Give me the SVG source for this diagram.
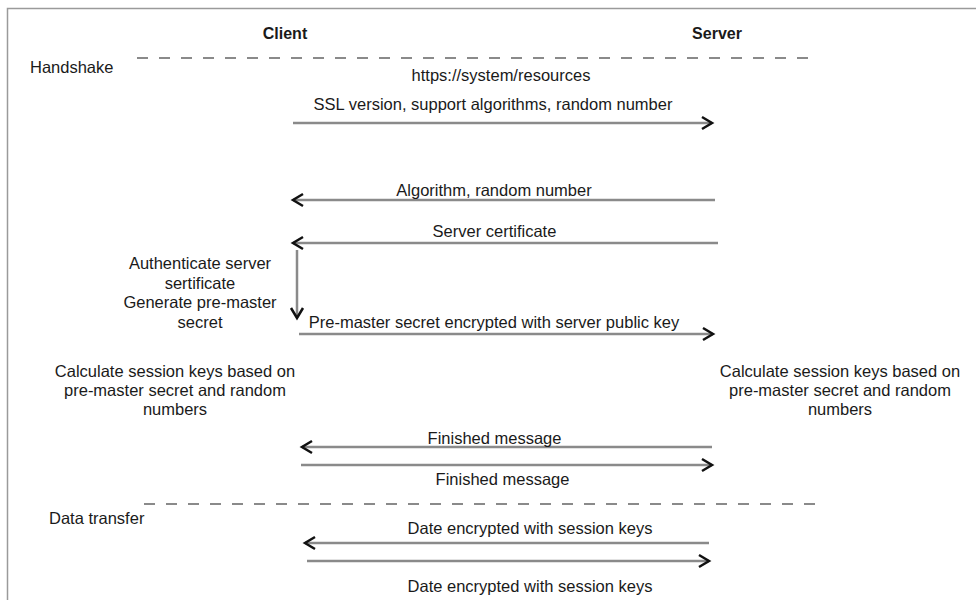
<svg xmlns="http://www.w3.org/2000/svg" width="976" height="600" viewBox="0 0 976 600">
<style>
  text { font-family: "Liberation Sans", Arial, sans-serif; font-size: 16.5px; fill: #1a1a1a; }
  .b { font-weight: bold; font-size: 16px; }
  .c { text-anchor: middle; }
  .msg { stroke: #8a8a8a; stroke-width: 2.5; fill: none; }
  .dash { stroke: #8a8a8a; stroke-width: 2; stroke-dasharray: 11 11; fill: none; }
  .frame { stroke: #9a9a9a; stroke-width: 1.5; fill: none; }
</style>
<defs>
  <marker id="ah" markerUnits="userSpaceOnUse" markerWidth="16" markerHeight="16" viewBox="-12 -8 14 16" refX="0" refY="0" orient="auto">
    <path d="M -10 -6 L 0 0 L -10 6" fill="none" stroke="#111" stroke-width="2.5" stroke-linejoin="miter"/>
  </marker>
</defs>
<rect width="976" height="600" fill="#fff"/>
<path class="frame" d="M 7.5 600 L 7.5 8.5 L 976 8.5"/>

<g id="client"><text class="b c" x="285" y="39">Client</text></g>
<g id="server"><text class="b c" x="717" y="39">Server</text></g>

<g id="phase-handshake">
  <text x="30" y="73">Handshake</text>
</g>
<g id="phase-data">
  <text x="49" y="524">Data transfer</text>
</g>

<g id="client-auth">
  <text class="c" x="200" y="269">Authenticate server</text>
  <text class="c" x="200" y="288.5">sertificate</text>
  <text class="c" x="200" y="308">Generate pre-master</text>
  <text class="c" x="200" y="327.5">secret</text>
</g>
<g id="client-keys">
  <text class="c" x="175" y="377">Calculate session keys based on</text>
  <text class="c" x="175" y="396">pre-master secret and random</text>
  <text class="c" x="175" y="415">numbers</text>
</g>
<g id="server-keys">
  <text class="c" x="840" y="377">Calculate session keys based on</text>
  <text class="c" x="840" y="396">pre-master secret and random</text>
  <text class="c" x="840" y="415">numbers</text>
</g>

<g id="connectors">
  <line class="dash" x1="137" y1="58" x2="815" y2="58"/>
  <line class="dash" x1="144" y1="504" x2="821" y2="504"/>

  <line class="msg" x1="293" y1="123" x2="712" y2="123" marker-end="url(#ah)"/>
  <line class="msg" x1="715" y1="200" x2="293" y2="200" marker-end="url(#ah)"/>
  <line class="msg" x1="718" y1="243" x2="293" y2="243" marker-end="url(#ah)"/>
  <line class="msg" x1="297" y1="250" x2="297" y2="318" marker-end="url(#ah)"/>
  <line class="msg" x1="299" y1="334" x2="713" y2="334" marker-end="url(#ah)"/>
  <line class="msg" x1="712" y1="447" x2="302" y2="447" marker-end="url(#ah)"/>
  <line class="msg" x1="301" y1="465" x2="712" y2="465" marker-end="url(#ah)"/>
  <line class="msg" x1="709" y1="543" x2="305" y2="543" marker-end="url(#ah)"/>
  <line class="msg" x1="307" y1="561" x2="709" y2="561" marker-end="url(#ah)"/>
</g>

<g id="labels">
  <text class="c" x="501" y="81">https://system/resources</text>
  <text class="c" x="493" y="110">SSL version, support algorithms, random number</text>
  <text class="c" x="494" y="196">Algorithm, random number</text>
  <text class="c" x="494.5" y="237">Server certificate</text>
  <text class="c" x="494" y="328">Pre-master secret encrypted with server public key</text>
  <text class="c" x="494.5" y="444">Finished message</text>
  <text class="c" x="502.5" y="485">Finished message</text>
  <text class="c" x="530" y="534">Date encrypted with session keys</text>
  <text class="c" x="530" y="592">Date encrypted with session keys</text>
</g>
</svg>
